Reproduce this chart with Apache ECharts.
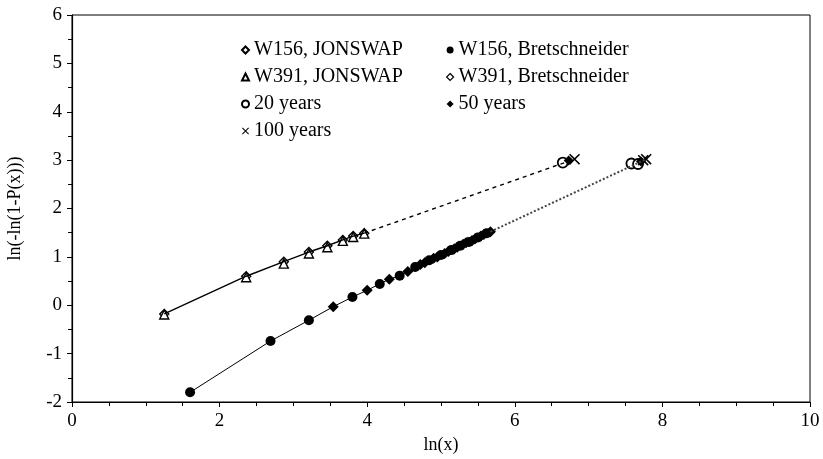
<!DOCTYPE html>
<html>
<head>
	<meta charset="utf-8">
	<title></title>
	<script src="https://cdn.jsdelivr.net/npm/echarts@6/dist/echarts.min.js"></script>
	<style>
		body { margin: 0; background: #fff; }
	</style>
</head>
<body>
	<div id="main" style="width: 823px;height: 459px;"></div>
	<script>
		// 数据
		var jonX = [1.25, 2.36, 2.87, 3.21, 3.46, 3.67, 3.81, 3.96];
		var w156JonY = [-0.18, 0.60, 0.90, 1.10, 1.23, 1.35, 1.43, 1.49];
		var w391JonY = [-0.19, 0.58, 0.86, 1.07, 1.20, 1.33, 1.41, 1.48];

		var bretX = [1.60, 2.69, 3.21, 3.54, 3.80, 4.00, 4.17, 4.30, 4.44, 4.55, 4.65, 4.72, 4.78, 4.84, 4.90, 4.95, 5.00, 5.05, 5.10, 5.14, 5.18, 5.22, 5.26, 5.30, 5.34, 5.38, 5.42, 5.46, 5.50, 5.54, 5.58, 5.62, 5.67];
		var bretY = [-1.80, -0.74, -0.31, -0.03, 0.17, 0.31, 0.44, 0.54, 0.61, 0.70, 0.79, 0.84, 0.88, 0.93, 0.97, 1.00, 1.04, 1.07, 1.11, 1.14, 1.17, 1.20, 1.23, 1.26, 1.29, 1.31, 1.34, 1.37, 1.40, 1.43, 1.46, 1.49, 1.52];
		var w156BretIdx = [0, 1, 2, 4, 6, 8, 10, 13, 16, 19, 22, 25, 28, 31];

		// return levels [x, y]
		var yr20 = [[6.65, 2.95], [7.58, 2.93], [7.67, 2.92]];
		var yr50 = [[6.73, 2.99], [7.71, 2.97]];
		var yr100 = [[6.81, 3.02], [7.78, 3.02], [7.74, 3.00]];

		function pairs(xs, ys) {
			var out = [];
			for (var i = 0; i < xs.length; i++) out.push([xs[i], ys[i]]);
			return out;
		}

		var jonLine = pairs(jonX, w156JonY);
		var bretAll = pairs(bretX, bretY);
		var w156Bret = w156BretIdx.map(function (i) { return bretAll[i]; });
		var w391Bret = bretAll.filter(function (p, i) { return w156BretIdx.indexOf(i) < 0; });

		var crossPath = 'path://M0,1L1,0L5,4L9,0L10,1L6,5L10,9L9,10L5,6L1,10L0,9L4,5Z';
		var font = 'Liberation Serif';
		var openStyle = { color: '#fff', borderColor: '#000', borderWidth: 1.4, opacity: 1 };
		var legendText = { fontFamily: font, fontSize: 20, color: '#000', padding: [0, 0, 0, 0] };

		var myCharts = echarts.init(document.getElementById('main'));
		var option = {
			animation: false,
			textStyle: { fontFamily: font, color: '#000' },
			grid: {
				left: 72, right: 13, top: 15, bottom: 57,
				outerBoundsMode: 'none', containLabel: false,
				show: true, borderColor: '#000', borderWidth: 1, backgroundColor: 'transparent'
			},
			legend: [{
				orient: 'vertical', left: 236, top: 35, itemGap: 7,
				itemWidth: 7, itemHeight: 7,
				textStyle: legendText,
				data: ['W156, JONSWAP', 'W391, JONSWAP', '20 years', '100 years']
			}, {
				orient: 'vertical', left: 441, top: 35, itemGap: 7,
				itemWidth: 7, itemHeight: 7,
				textStyle: legendText,
				data: [
					'W156, Bretschneider',
					{ name: 'W391, Bretschneider', itemStyle: { color: '#fff', borderColor: '#000', borderWidth: 1.2 } },
					'50 years'
				]
			}],
			xAxis: {
				type: 'value', min: 0, max: 10, interval: 2,
				name: 'ln(x)', nameLocation: 'middle', nameGap: 34,
				nameTextStyle: { fontFamily: font, fontSize: 18, color: '#000' },
				axisLine: { onZero: false, lineStyle: { color: '#000', width: 1.2 } },
				axisTick: { show: true, length: 5, lineStyle: { color: '#000' } },
				minorTick: { show: true, splitNumber: 4, length: 4, lineStyle: { color: '#000' } },
				splitLine: { show: false },
				axisLabel: { fontFamily: font, fontSize: 19, color: '#000', margin: 10 }
			},
			yAxis: {
				type: 'value', min: -2, max: 6, interval: 1,
				name: 'ln(-ln(1-P(x)))', nameLocation: 'middle', nameGap: 48,
				nameTextStyle: { fontFamily: font, fontSize: 18, color: '#000' },
				axisLine: { onZero: false, lineStyle: { color: '#000', width: 1.2 } },
				axisTick: { show: true, length: 5, lineStyle: { color: '#000' } },
				minorTick: { show: true, splitNumber: 2, length: 4, lineStyle: { color: '#000' } },
				splitLine: { show: false },
				axisLabel: { fontFamily: font, fontSize: 19, color: '#000', margin: 10 }
			},
			series: [
				// lines
				{ type: 'line', data: jonLine, symbol: 'none', silent: true,
					lineStyle: { color: '#000', width: 1.4 } },
				{ type: 'line', data: bretAll, symbol: 'none', silent: true,
					lineStyle: { color: '#000', width: 1 } },
				{ type: 'line', data: [jonLine[jonLine.length - 1], yr100[0]], symbol: 'none', silent: true,
					lineStyle: { color: '#000', width: 1.4, type: [4, 4] } },
				{ type: 'line', data: [bretAll[bretAll.length - 1], yr100[1]], symbol: 'none', silent: true,
					lineStyle: { color: '#444', width: 2, type: [2, 2] } },
				// markers
				{ name: 'W156, JONSWAP', type: 'scatter', data: jonLine, symbol: 'diamond', symbolSize: 9,
					itemStyle: openStyle },
				{ name: 'W391, JONSWAP', type: 'scatter', data: pairs(jonX, w391JonY), symbol: 'triangle', symbolSize: 9,
					itemStyle: openStyle },
				{ name: 'W156, Bretschneider', type: 'scatter', data: w156Bret, symbol: 'circle', symbolSize: 10,
					itemStyle: { color: '#000', opacity: 1 } },
				{ name: 'W391, Bretschneider', type: 'scatter', data: w391Bret, symbol: 'diamond', symbolSize: 11,
					itemStyle: { color: '#000', opacity: 1 } },
				{ name: '20 years', type: 'scatter', data: yr20, symbol: 'circle', symbolSize: 10,
					itemStyle: { color: '#fff', borderColor: '#000', borderWidth: 1.8, opacity: 1 } },
				{ name: '50 years', type: 'scatter', data: yr50, symbol: 'diamond', symbolSize: 10,
					itemStyle: { color: '#000', opacity: 1 } },
				{ name: '100 years', type: 'scatter', data: yr100, symbol: crossPath, symbolSize: 11,
					itemStyle: { color: '#000', opacity: 1 } }
			]
		};
		myCharts.setOption(option);
	</script>
</body>
</html>
